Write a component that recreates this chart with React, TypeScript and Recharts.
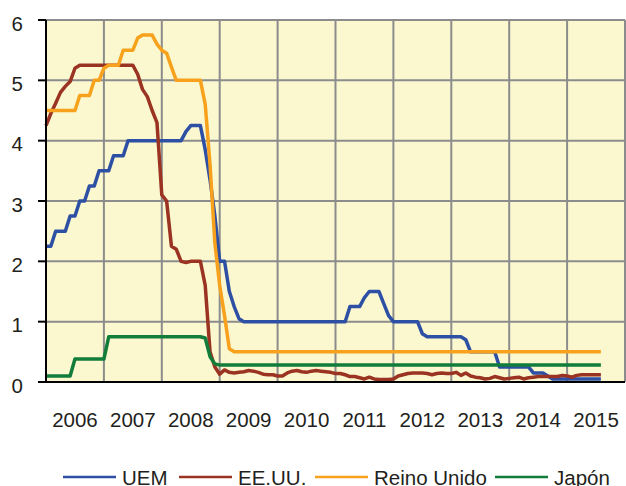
import { LineChart, Line, XAxis, YAxis, CartesianGrid, Legend } from 'recharts'

// monthly values, Jan 2006 .. Aug 2015
const startYear = 2006

const uem = [
  2.25, 2.25, 2.5, 2.5, 2.5, 2.75, 2.75, 3.0, 3.0, 3.25, 3.25, 3.5,
  3.5, 3.5, 3.75, 3.75, 3.75, 4.0, 4.0, 4.0, 4.0, 4.0, 4.0, 4.0,
  4.0, 4.0, 4.0, 4.0, 4.0, 4.15, 4.25, 4.25, 4.25, 3.85, 3.35, 2.75,
  2.0, 2.0, 1.5, 1.25, 1.05, 1.0, 1.0, 1.0, 1.0, 1.0, 1.0, 1.0,
  1.0, 1.0, 1.0, 1.0, 1.0, 1.0, 1.0, 1.0, 1.0, 1.0, 1.0, 1.0,
  1.0, 1.0, 1.0, 1.25, 1.25, 1.25, 1.4, 1.5, 1.5, 1.5, 1.3, 1.1,
  1.0, 1.0, 1.0, 1.0, 1.0, 1.0, 0.8, 0.75, 0.75, 0.75, 0.75, 0.75,
  0.75, 0.75, 0.75, 0.7, 0.5, 0.5, 0.5, 0.5, 0.5, 0.5, 0.25, 0.25,
  0.25, 0.25, 0.25, 0.25, 0.25, 0.15, 0.15, 0.15, 0.1, 0.05, 0.05, 0.05,
  0.05, 0.05, 0.05, 0.05, 0.05, 0.05, 0.05, 0.05,
]

const eeuu = [
  4.25, 4.45, 4.62, 4.8, 4.9, 4.98, 5.2, 5.25, 5.25, 5.25, 5.25, 5.25,
  5.25, 5.25, 5.25, 5.25, 5.25, 5.25, 5.25, 5.1, 4.85, 4.73, 4.5, 4.3,
  3.1, 3.0, 2.25, 2.2, 2.0, 1.98, 2.0, 2.0, 2.0, 1.6, 0.5, 0.25,
  0.13, 0.2, 0.16, 0.15, 0.16, 0.17, 0.19, 0.18, 0.16, 0.13, 0.12, 0.12,
  0.1, 0.1, 0.15, 0.18, 0.19, 0.17, 0.16, 0.18, 0.19, 0.18, 0.17, 0.16,
  0.14, 0.14, 0.12, 0.09, 0.09, 0.07, 0.05, 0.08, 0.05, 0.04, 0.04, 0.04,
  0.05, 0.1, 0.12, 0.14, 0.15, 0.15, 0.15, 0.14, 0.12, 0.14, 0.15, 0.14,
  0.14, 0.16, 0.11, 0.15, 0.1, 0.08, 0.07, 0.05, 0.06, 0.09, 0.07, 0.05,
  0.06, 0.07, 0.08, 0.05, 0.07, 0.08, 0.09, 0.09, 0.09, 0.09, 0.09, 0.11,
  0.1, 0.08, 0.11, 0.12, 0.12, 0.12, 0.12, 0.12,
]

const reinoUnido = [
  4.5, 4.5, 4.5, 4.5, 4.5, 4.5, 4.5, 4.75, 4.75, 4.75, 5.0, 5.0,
  5.2, 5.25, 5.25, 5.25, 5.5, 5.5, 5.5, 5.7, 5.75, 5.75, 5.75, 5.6,
  5.5, 5.45, 5.22, 5.0, 5.0, 5.0, 5.0, 5.0, 5.0, 4.6, 3.6, 2.3,
  1.6, 1.1, 0.55, 0.5, 0.5, 0.5, 0.5, 0.5, 0.5, 0.5, 0.5, 0.5,
  0.5, 0.5, 0.5, 0.5, 0.5, 0.5, 0.5, 0.5, 0.5, 0.5, 0.5, 0.5,
  0.5, 0.5, 0.5, 0.5, 0.5, 0.5, 0.5, 0.5, 0.5, 0.5, 0.5, 0.5,
  0.5, 0.5, 0.5, 0.5, 0.5, 0.5, 0.5, 0.5, 0.5, 0.5, 0.5, 0.5,
  0.5, 0.5, 0.5, 0.5, 0.5, 0.5, 0.5, 0.5, 0.5, 0.5, 0.5, 0.5,
  0.5, 0.5, 0.5, 0.5, 0.5, 0.5, 0.5, 0.5, 0.5, 0.5, 0.5, 0.5,
  0.5, 0.5, 0.5, 0.5, 0.5, 0.5, 0.5, 0.5,
]

const japon = [
  0.1, 0.1, 0.1, 0.1, 0.1, 0.1, 0.38, 0.38, 0.38, 0.38, 0.38, 0.38,
  0.38, 0.75, 0.75, 0.75, 0.75, 0.75, 0.75, 0.75, 0.75, 0.75, 0.75, 0.75,
  0.75, 0.75, 0.75, 0.75, 0.75, 0.75, 0.75, 0.75, 0.75, 0.73, 0.42, 0.3,
  0.28, 0.28, 0.28, 0.28, 0.28, 0.28, 0.28, 0.28, 0.28, 0.28, 0.28, 0.28,
  0.28, 0.28, 0.28, 0.28, 0.28, 0.28, 0.28, 0.28, 0.28, 0.28, 0.28, 0.28,
  0.28, 0.28, 0.28, 0.28, 0.28, 0.28, 0.28, 0.28, 0.28, 0.28, 0.28, 0.28,
  0.28, 0.28, 0.28, 0.28, 0.28, 0.28, 0.28, 0.28, 0.28, 0.28, 0.28, 0.28,
  0.28, 0.28, 0.28, 0.28, 0.28, 0.28, 0.28, 0.28, 0.28, 0.28, 0.28, 0.28,
  0.28, 0.28, 0.28, 0.28, 0.28, 0.28, 0.28, 0.28, 0.28, 0.28, 0.28, 0.28,
  0.28, 0.28, 0.28, 0.28, 0.28, 0.28, 0.28, 0.28,
]

const yearTicks = [2006, 2007, 2008, 2009, 2010, 2011, 2012, 2013, 2014, 2015, 2016]
const yTicks = [0, 1, 2, 3, 4, 5, 6]

const series = [
  { key: 'uem', name: 'UEM', color: '#2d4fa4' },
  { key: 'eeuu', name: 'EE.UU.', color: '#9a3322' },
  { key: 'reinoUnido', name: 'Reino Unido', color: '#f7a11c' },
  { key: 'japon', name: 'Japón', color: '#127c3b' },
]

const data = uem.map((v, i) => ({
  t: startYear + i / 12,
  uem: v,
  eeuu: eeuu[i],
  reinoUnido: reinoUnido[i],
  japon: japon[i],
}))

const FONT = '"Liberation Sans", Arial, sans-serif'
const TEXT = '#231f20'
const HALF_YEAR = 28.95
const legendX = [63, 179, 315, 495]

function XTick({ x, y, payload }: any) {
  if (payload.value >= 2016) return null
  return (
    <text x={x + HALF_YEAR} y={y + 45} textAnchor="middle" fontSize={20.5} fontFamily={FONT} fill={TEXT}>
      {payload.value}
    </text>
  )
}

function YTick({ x, y, payload }: any) {
  return (
    <text x={x} y={y + 10.5} textAnchor="end" fontSize={20.5} fontFamily={FONT} fill={TEXT}>
      {payload.value}
    </text>
  )
}

function LegendContent() {
  return (
    <svg width={626} height={24} style={{ display: 'block', overflow: 'visible' }}>
      {series.map((s, i) => (
        <g key={s.key}>
          <line x1={legendX[i]} x2={legendX[i] + 53} y1={15} y2={15} stroke={s.color} strokeWidth={2.5} />
          <text x={legendX[i] + 59} y={22.5} fontSize={20.5} fontFamily={FONT} fill={TEXT}>
            {s.name}
          </text>
        </g>
      ))}
    </svg>
  )
}

export default function App() {
  return (
    <div style={{ position: 'absolute', left: 0, top: 0, width: 626, height: 486, overflow: 'hidden', background: '#fff', fontFamily: FONT }}>
      <LineChart width={626} height={486} data={data} margin={{ top: 20, right: 1, bottom: 0, left: 0 }}>
        <CartesianGrid fill="#fbf8d0" stroke="#8c8c8c" strokeWidth={2} />
        <XAxis
          dataKey="t"
          type="number"
          domain={[2006, 2016]}
          ticks={yearTicks}
          interval={0}
          height={80}
          tickSize={0}
          tickMargin={0}
          tickLine={false}
          axisLine={{ stroke: '#000', strokeWidth: 2 }}
          tick={<XTick />}
        />
        <YAxis
          domain={[0, 6]}
          ticks={yTicks}
          interval={0}
          width={46}
          tickSize={8}
          tickMargin={15}
          tickLine={{ stroke: '#000', strokeWidth: 2 }}
          axisLine={{ stroke: '#000', strokeWidth: 2 }}
          tick={<YTick />}
        />
        {series.map((s) => (
          <Line
            key={s.key}
            type="linear"
            dataKey={s.key}
            name={s.name}
            stroke={s.color}
            strokeWidth={3.5}
            strokeLinejoin="round"
            dot={false}
            activeDot={false}
            isAnimationActive={false}
          />
        ))}
        <Legend verticalAlign="bottom" content={<LegendContent />} />
      </LineChart>
    </div>
  )
}
